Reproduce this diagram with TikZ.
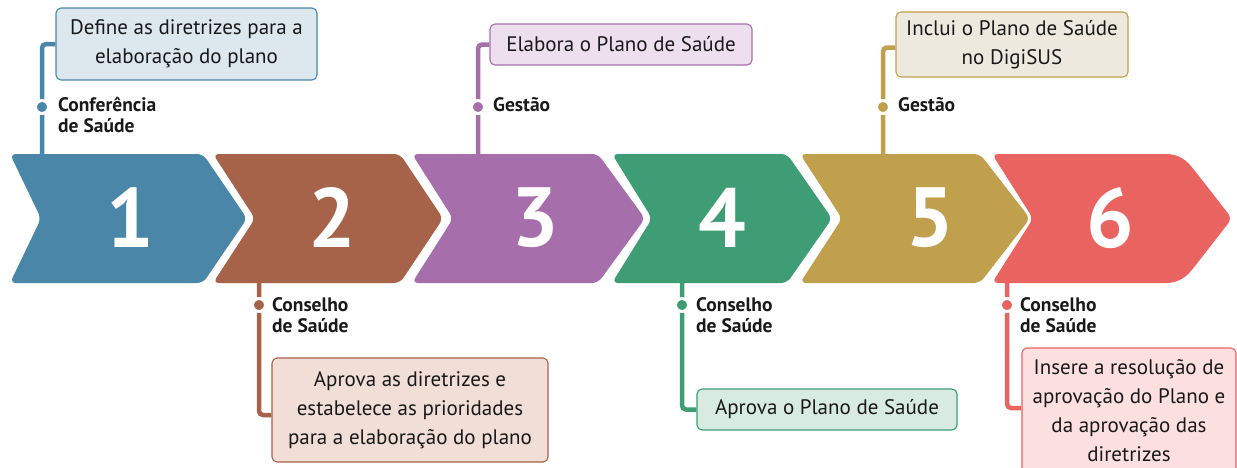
\documentclass[tikz,border=0pt]{standalone}
\usepackage{fontspec}
\setmainfont{PT Sans}
\begin{document}
\begin{tikzpicture}[x=1pt,y=-1pt,
  box/.style={draw=#1!100, fill=#1L, line width=1.1pt, rounded corners=5pt, align=center, inner sep=0pt,
    text=black!90, font=\fontsize{21}{29}\selectfont},
  conn/.style={draw=#1, line width=4.5pt, rounded corners=4pt},
  dot/.style={circle, fill=#1, draw=white, line width=3pt, minimum size=13pt, inner sep=0pt},
  lab/.style={anchor=north west, inner sep=0pt, align=left, font=\fontsize{19.5}{21}\bfseries\selectfont, text=black!90},
  num/.style={text=white, inner sep=0pt, font=\fontsize{84}{84}\bfseries\selectfont}
]
\definecolor{cA}{HTML}{4A86A8}\definecolor{cAL}{HTML}{DCE7EE}
\definecolor{cB}{HTML}{A6634A}\definecolor{cBL}{HTML}{F1DED7}
\definecolor{cC}{HTML}{A66FAC}\definecolor{cCL}{HTML}{EDDFEE}
\definecolor{cD}{HTML}{3E9D74}\definecolor{cDL}{HTML}{D8EBE1}
\definecolor{cE}{HTML}{C0A04D}\definecolor{cEL}{HTML}{EEE9DF}
\definecolor{cF}{HTML}{E96461}\definecolor{cFL}{HTML}{FCE0E0}
\useasboundingbox (0,0) rectangle (1237,467);
\clip (0,0) rectangle (1237,467);

% chevrons
\fill[cA, rounded corners=6pt] (10,154) -- (203,154) -- (247,218.5) -- (203,283) -- (10,283) -- (41,218.5) -- cycle;
\fill[cB, rounded corners=6pt] (213,154) -- (400,154) -- (443,218.5) -- (400,283) -- (213,283) -- (255,218.5) -- cycle;
\fill[cC, rounded corners=6pt] (412,154) -- (598,154) -- (645,218.5) -- (598,283) -- (412,283) -- (453,218.5) -- cycle;
\fill[cD, rounded corners=6pt] (612,154) -- (787,154) -- (832,218.5) -- (787,283) -- (612,283) -- (652,218.5) -- cycle;
\fill[cE, rounded corners=6pt] (800,154) -- (980,154) -- (1030,218.5) -- (980,283) -- (800,283) -- (842,218.5) -- cycle;
\fill[cF, rounded corners=6pt] (992,154) -- (1160,154) .. controls (1178,154) and (1186,160) .. (1195,171) -- (1232,218.5) -- (1195,266) .. controls (1186,277) and (1178,283) .. (1160,283) -- (992,283) -- (1033,218.5) -- cycle;

\node[num] (n1) at (130,218) {1};
\node[num] (n2) at (332,218) {2};
\node[num] (n3) at (535,218) {3};
\node[num] (n4) at (722,218) {4};
\node[num] (n5) at (930,218) {5};
\node[num] (n6) at (1110,218) {6};

% anchor coordinates on chevrons
\coordinate (t1) at (42,156);
\coordinate (t3) at (478,156);
\coordinate (t5) at (883,156);
\coordinate (t2) at (259,281);
\coordinate (t4) at (682,281);
\coordinate (t6) at (1007,281);

% boxes
\node[box=cA, minimum width=261pt, minimum height=72pt] (b1) at (186.5,44) {Define as diretrizes para a\\elaboração do plano};
\node[box=cC, minimum width=262pt, minimum height=41pt] (b3) at (621,44.5) {Elabora o Plano de Saúde};
\node[box=cE, minimum width=232pt, minimum height=65pt] (b5) at (1012,44.5) {Inclui o Plano de Saúde\\no DigiSUS};
\node[box=cB, minimum width=276pt, minimum height=104pt] (b2) at (410,410) {Aprova as diretrizes e\\estabelece as prioridades\\para a elaboração do plano};
\node[box=cD, minimum width=260pt, minimum height=41pt] (b4) at (827,409.5) {Aprova o Plano de Saúde};
\node[box=cF, minimum width=214pt, minimum height=126pt] (b6) at (1129,411) {Insere a resolução de\\aprovação do Plano e\\da aprovação das\\diretrizes};

% connectors
\draw[conn=cA] (b1.west) -| (t1);
\draw[conn=cC] (b3.west) -| (t3);
\draw[conn=cE] ([yshift=-3pt]b5.west) -| (t5);
\draw[conn=cB] (t2) |- ([yshift=-5pt]b2.west);
\draw[conn=cD] (t4) |- (b4.west);
\draw[conn=cF] (t6) |- ([yshift=3pt]b6.west);

% dots and labels
\node[dot=cA] (d1) at (42,107) {};
\node[dot=cC] (d3) at (478,107) {};
\node[dot=cE] (d5) at (883,107) {};
\node[dot=cB] (d2) at (259,305) {};
\node[dot=cD] (d4) at (682,305) {};
\node[dot=cF] (d6) at (1007,305) {};

\node[lab] (l1) at (58,97.5) {Conferência\\de Saúde};
\node[lab] (l3) at (493,97.5) {Gestão};
\node[lab] (l5) at (898,97.5) {Gestão};
\node[lab] (l2) at (272,297.5) {Conselho\\de Saúde};
\node[lab] (l4) at (696,297.5) {Conselho\\de Saúde};
\node[lab] (l6) at (1020,297.5) {Conselho\\de Saúde};
\end{tikzpicture}
\end{document}
